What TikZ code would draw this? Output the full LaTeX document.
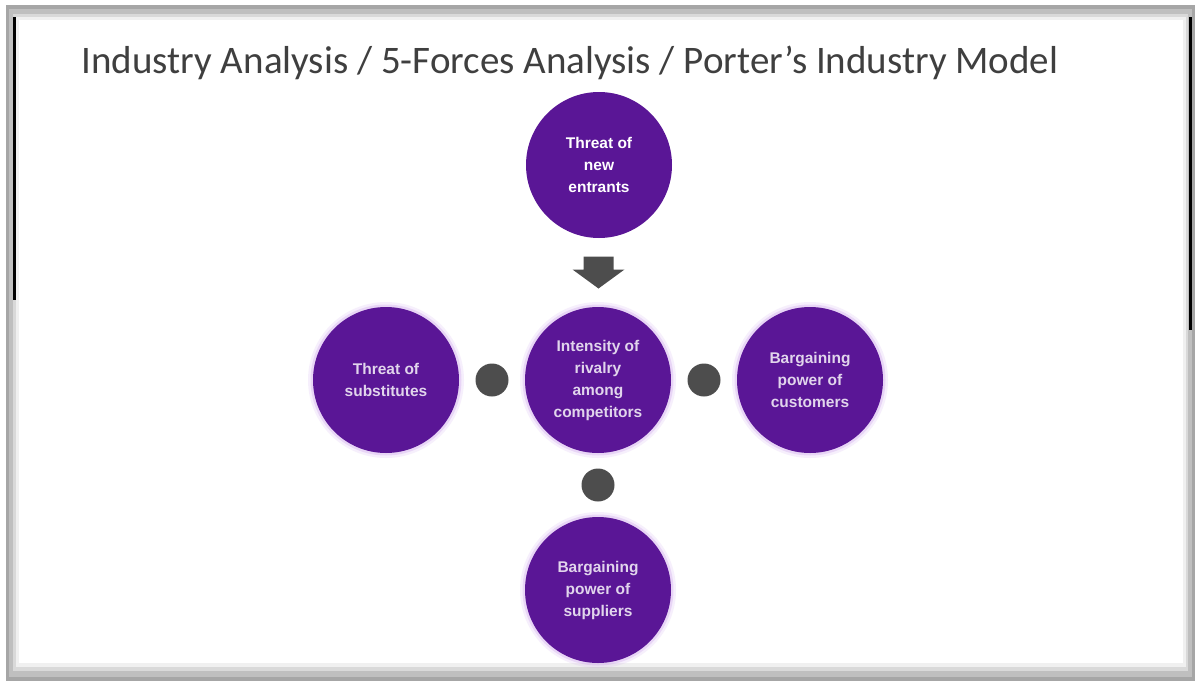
\documentclass[tikz,border=0pt]{standalone}
\usepackage{fontspec}
\setmainfont{Carlito}
\newfontfamily\circfont{Liberation Sans}
\usetikzlibrary{calc}
\definecolor{pporter}{HTML}{5A1696}
\definecolor{pglow}{HTML}{C89AEB}
\definecolor{darkdot}{HTML}{4D4D4D}
\definecolor{titlegray}{HTML}{3F3F3F}
\tikzset{
  force/.style={circle, fill=pporter, minimum size=146pt, inner sep=0pt,
    align=center, text=white, font=\circfont\bfseries\fontsize{15.5}{22}\selectfont},
  blurry/.style={force, text=white!82!pporter},
  plusdot/.style={circle, fill=darkdot, minimum size=33pt, inner sep=0pt},
  blockarrow/.style={fill=darkdot},
}
\begin{document}
\begin{tikzpicture}[x=1pt,y=-1pt]
% slide frame
\useasboundingbox (0,0) rectangle (1195,683);
\fill[white] (0,0) rectangle (1195,683);
\fill[gray!70] (6,5) rectangle (1195,681);
\fill[gray!50] (9,9) rectangle (1192,677);
\fill[gray!30] (13,14) rectangle (1188,671);
\fill[gray!12] (16,17) rectangle (1186,667);
\fill[white] (19,20) rectangle (1183,663);
\fill[black] (12.5,17) rectangle (15.5,300);
\fill[black] (1189,17) rectangle (1192,330);
% title
\node[anchor=base, text=titlegray, font=\fontsize{39}{43}\selectfont, inner sep=0pt]
  (title) at (570,73) {Industry Analysis / 5-Forces Analysis / Porter’s Industry Model};
% soft edges for blurred circles
\foreach \cx/\cy in {386/380, 598/380, 810/380, 598/590}{
  \fill[pglow, opacity=0.15] (\cx,\cy) circle (78);
  \fill[pglow, opacity=0.3] (\cx,\cy) circle (75.5);
}
% forces
\node[force] (top) at (599,165) {Threat of\\new\\entrants};
\node[blurry] (mid) at (598,380) {Intensity of\\rivalry\\among\\competitors};
\node[blurry] (left) at (386,380) {Threat of\\substitutes};
\node[blurry] (right) at (810,380) {Bargaining\\power of\\customers};
\node[blurry] (bot) at (598,590) {Bargaining\\power of\\suppliers};
% connectors
\coordinate (ac) at ($(top.south)!0.5!(mid.north)$);
\fill[blockarrow] ($(ac)+(-15,-16)$) -- ($(ac)+(15,-16)$) -- ($(ac)+(15,-3)$)
  -- ($(ac)+(26,-3)$) -- ($(ac)+(0,16)$) -- ($(ac)+(-26,-3)$) -- ($(ac)+(-15,-3)$) -- cycle;
\node[plusdot] (dl) at ($(left.east)!0.5!(mid.west)$) {};
\node[plusdot] (dr) at ($(mid.east)!0.5!(right.west)$) {};
\node[plusdot] (db) at ($(mid.south)!0.5!(bot.north)$) {};
\end{tikzpicture}
\end{document}
